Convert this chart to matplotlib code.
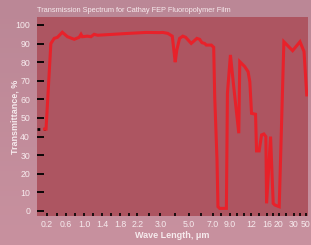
import numpy as np
import matplotlib
matplotlib.use('Agg')
import matplotlib.pyplot as plt
from matplotlib.colors import LinearSegmentedColormap

# spectrum (wavelength in um, transmittance in %)
wave = [0.15, 0.18, 0.28, 0.35, 0.42, 0.52, 0.63, 0.78, 0.89, 0.93, 0.96, 1.07, 1.15,
        1.22, 1.30, 2.00, 2.50, 2.97, 3.16, 3.52, 3.84, 4.05, 4.16, 4.36, 4.59, 4.79,
        5.22, 5.69, 5.92, 6.11, 6.33, 6.47, 6.89, 7.12, 7.24, 7.51, 7.62, 7.82, 8.61,
        8.73, 9.10, 9.57, 10.29, 10.43, 11.14, 11.61, 11.86, 12.18, 13.18, 13.43,
        14.08, 14.68, 15.25, 15.75, 15.93, 17.23, 18.10, 18.67, 20.2, 23.3, 29.1,
        40.0, 46.7, 51.2]
trans = [44, 44, 90, 92.8, 93.4, 96.1, 93.7, 92.3, 93.4, 95, 93.7, 94, 93.7,
         95, 94.5, 95.5, 96, 95.9, 96, 95.5, 94, 80, 86.5, 92.8, 94, 93.4,
         90.1, 92.8, 92.3, 90.5, 90.1, 89.2, 89.2, 88, 61.5, 27.4, 2.3, 1.4, 1.4,
         63.3, 83.9, 66.8, 41.8, 80.3, 77.6, 74.9, 69.5, 52.5, 52, 32.3,
         32.3, 40.9, 41.4, 40, 4.1, 40, 4.1, 3.2, 2.3, 91, 86.2,
         91, 85.7, 62.4]
start_x = [0.0, 0.15]
start_y = [44, 44]

tick_vals = [0.2, 0.4, 0.6, 0.8, 1.0, 1.2, 1.4, 1.6, 1.8, 2.0, 2.2, 2.6, 3.0, 4.0, 5.0,
             6.0, 7.0, 8.0, 9.0, 10, 11, 12, 14, 16, 18, 20, 25, 30, 40, 50]
tick_text = {0.2: '0.2', 0.6: '0.6', 1.0: '1.0', 1.4: '1.4', 1.8: '1.8', 2.2: '2.2',
             3.0: '3.0', 5.0: '5.0', 7.0: '7.0', 9.0: '9.0', 12: '12', 16: '16',
             20: '20', 30: '30', 50: '50'}

# the axis is stretched piecewise: wavelength -> position
anchor_w = [0, 0.2, 0.6, 1.0, 1.4, 1.8, 2.2, 3.0, 5.0, 7.0, 9.0, 12, 16, 20, 30, 50, 60]
anchor_p = [38, 48, 67, 85, 103, 121, 138, 161, 189, 213, 230, 251, 267, 279, 294, 306, 312]

def fwd(x):
    return np.interp(x, anchor_w, anchor_p)

def inv(p):
    return np.interp(p, anchor_p, anchor_w)

ax_bg = '#ad5561'
txt = '#f6eaed'

fig = plt.figure(figsize=(3.11, 2.45), dpi=100)
fig.patch.set_facecolor('#c08a99')

# soft top-to-bottom shading behind everything
bg = fig.add_axes([0, 0, 1, 1], zorder=-1)
shade = LinearSegmentedColormap.from_list('shade', ['#c8919f', '#bb8796'])
bg.imshow(np.linspace(0, 1, 50).reshape(-1, 1), aspect='auto', cmap=shade,
          extent=[0, 1, 0, 1], origin='lower')
bg.axis('off')

ax = fig.add_axes([37/311, 29/245, 271/311, 199/245])
ax.set_facecolor(ax_bg)
ax.set_xscale('function', functions=(fwd, inv))

ax.plot(start_x, start_y, color='black', lw=2, ls=(0, (1, 1.5)))
ax.plot(wave, trans, color='#e8212a', lw=2.2, solid_joinstyle='miter')

ax.set_xlim(0, 53.3)
ax.set_ylim(-2.7, 104.3)
ax.set_yticks(range(0, 101, 10))
ax.set_xticks(tick_vals)
ax.set_xticklabels([tick_text.get(v, '') for v in tick_vals])
ax.minorticks_off()

for s in ax.spines.values():
    s.set_visible(False)

ax.tick_params(axis='y', direction='in', length=5, width=1.3, color='black',
               labelcolor=txt, labelsize=6.3, pad=5, labelfontfamily='Liberation Sans')
ax.tick_params(axis='x', direction='in', length=2.5, width=1.2, color='black',
               labelcolor=txt, labelsize=6.3, pad=3, labelfontfamily='Liberation Sans')

ax.set_ylabel('Transmittance, %', color=txt, fontsize=6.5, fontweight='bold',
              family='Liberation Sans', va='center')
ax.yaxis.set_label_coords(-0.081, 0.5)
ax.set_xlabel('Wave Length, μm', color=txt, fontsize=6.5, fontweight='bold',
              family='Liberation Sans', va='center')
ax.xaxis.set_label_coords(0.5, -0.10)
fig.text(37/311, 1 - 10/245, 'Transmission Spectrum for Cathay FEP Fluoropolymer Film',
         color=txt, fontsize=5.3, family='Liberation Sans', va='center')

fig.savefig('out.png', dpi=100, facecolor=fig.get_facecolor())
